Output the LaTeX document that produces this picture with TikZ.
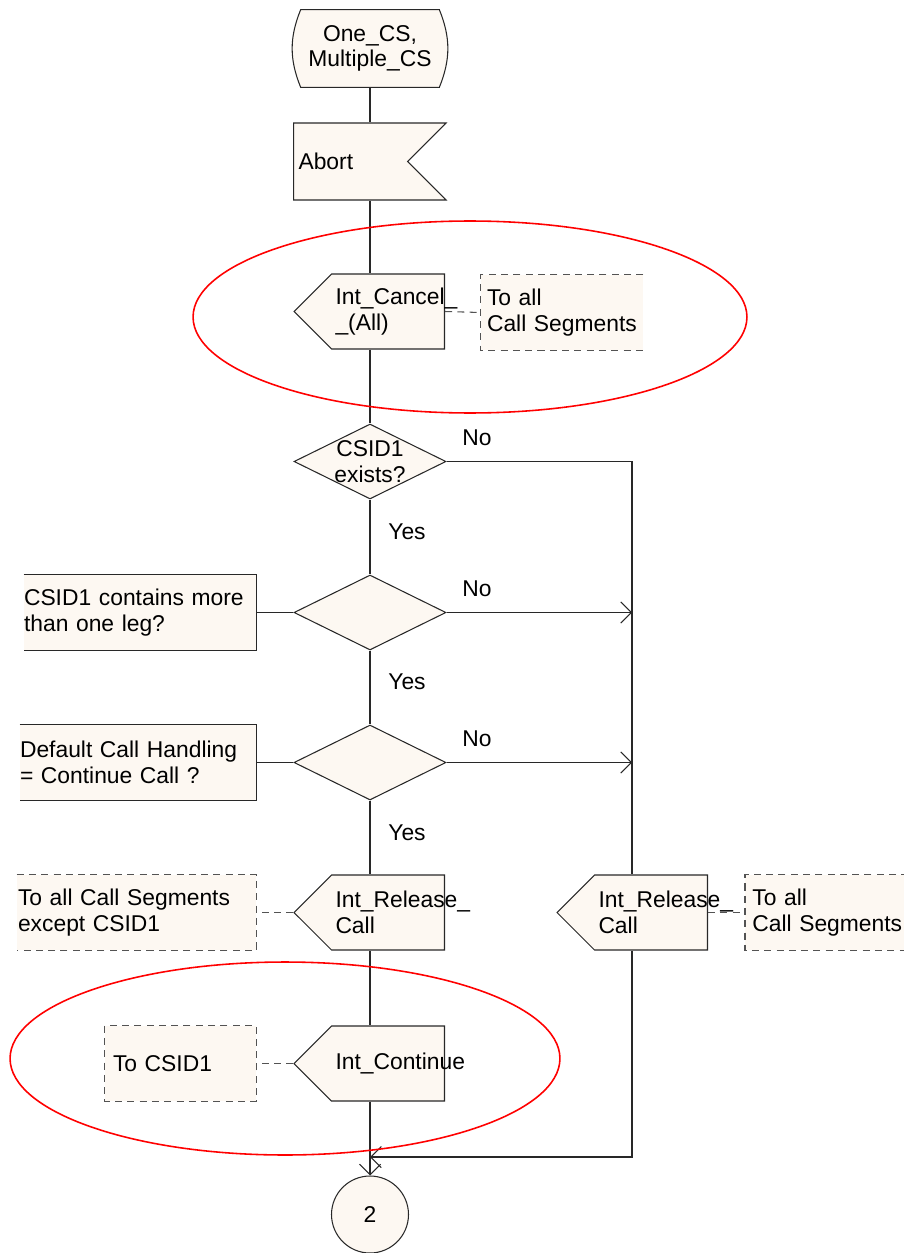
\documentclass[tikz,border=0pt]{standalone}
\usepackage{fontspec}
\setmainfont{Liberation Sans}
\usetikzlibrary{shapes.geometric,shapes.symbols,arrows.meta}

\definecolor{sdlfill}{RGB}{253,248,242}
\definecolor{sdlline}{RGB}{40,40,40}

\pgfdeclarelayer{background}
\pgfsetlayers{background,main}

\begin{document}
\begin{tikzpicture}[
  x=0.02cm, y=-0.02cm,
  every node/.style={font=\fontsize{13}{14.6}\selectfont},
  base/.style={draw=sdlline, fill=sdlfill, line width=0.6pt},
  startbox/.style={minimum width=2.76cm, minimum height=1.54cm, inner sep=0pt, align=center},
  inputbox/.style={base, signal, signal to=nowhere, signal from=east, signal pointer angle=90, minimum height=1.54cm, text width=2.08cm, inner xsep=0.1cm, align=left, anchor=west},
  outputbox/.style={base, signal, signal to=west, signal pointer angle=90, minimum height=1.5cm, text width=2.1cm, inner xsep=0.08cm, align=left, anchor=east},
  decision/.style={base, diamond, minimum width=3.04cm, minimum height=1.5cm, inner sep=0pt},
  askbox/.style={fill=sdlfill, minimum height=1.5cm, inner xsep=0pt, align=left},
  cmtbox/.style={fill=sdlfill, minimum height=1.5cm, align=left},
  connector/.style={base, circle, minimum size=1.54cm, inner sep=0pt},
  lbl/.style={inner sep=1pt},
  line/.style={draw=sdlline, line width=0.6pt},
  flow/.style={line, -{Straight Barb[length=6pt,width=12pt]}},
  cmtline/.style={draw=sdlline!80, line width=0.6pt, dash pattern=on 4pt off 3pt},
  ring/.style={draw=red, line width=0.9pt}
]
\useasboundingbox (0,0) rectangle (903,1253);

% main column
\node[startbox] (start) at (370,48.5) {One\_CS,\\Multiple\_CS};
\node[inputbox] (abort) at (293,161.5) {Abort};
\node[outputbox] (cancel) at (445,311.5) {Int\_Cancel\_\\\_(All)};
\node[decision] (d1) at (370,461.5) {};
\node[align=center] at (d1) {CSID1\\exists?};
\node[decision] (d2) at (370,612.5) {};
\node[decision] (d3) at (370,762.5) {};
\node[outputbox] (relB) at (445,912.5) {Int\_Release\_\\Call};
\node[outputbox] (cont) at (445,1063.5) {Int\_Continue};
\node[connector] (conn) at (370,1214.5) {2};

% start symbol outline with bulging sides
\begin{pgfonlayer}{background}
\draw[base] (start.north west) to[bend right=22] (start.south west)
  -- (start.south east) to[bend right=22] (start.north east) -- cycle;
\end{pgfonlayer}

% release branch on the right
\coordinate (bus) at (632,461.5);
\node[outputbox] (relA) at (708,912.5) {Int\_Release\_\\Call};
\coordinate (join) at (370,1157);

% questions and comments
\node[askbox, minimum width=4.64cm, text width=4.64cm] (q2) at (140,612.5) {CSID1 contains more\\than one leg?};
\node[askbox, minimum width=4.72cm, text width=4.72cm] (q3) at (138,762.5) {Default Call Handling\\= Continue Call ?};
\node[cmtbox, minimum width=3.24cm, text width=3.0cm, inner xsep=0.12cm] (c1) at (562,312.5) {To all\\Call Segments};
\node[cmtbox, minimum width=4.78cm, text width=4.74cm, inner xsep=0.02cm] (c2) at (136.5,912.5) {To all Call Segments\\except CSID1};
\node[cmtbox, minimum width=3.5cm, text width=3.22cm, inner xsep=0.14cm, anchor=west] (c3) at (745,912.5) {To all\\Call Segments};
\node[cmtbox, minimum width=3.02cm, text width=2.7cm, inner xsep=0.16cm] (c4) at (180.5,1063.5) {To CSID1};

% box edges
\draw[line] (q2.north west) -- (q2.north east) -- (q2.south east) -- (q2.south west);
\draw[line] (q3.north west) -- (q3.north east) -- (q3.south east) -- (q3.south west);
\draw[cmtline] (c1.north east) -- (c1.north west) -- (c1.south west) -- (c1.south east);
\draw[cmtline] (c2.north west) -- (c2.north east) -- (c2.south east) -- (c2.south west);
\draw[cmtline] (c3.north east) -- (c3.north west) -- (c3.south west) -- (c3.south east);
\draw[cmtline] (c4.north west) rectangle (c4.south east);

% trunk
\draw[line] (start.south) -- (start.south |- abort.north);
\draw[line] (start.south |- abort.south) -- (start.south |- cancel.north);
\draw[line] (start.south |- cancel.south) -- (d1.north);
\draw[line] (d1.south) -- (d2.north);
\draw[line] (d2.south) -- (d3.north);
\draw[line] (d3.south) -- (d3.south |- relB.north);
\draw[line] (d3.south |- relB.south) -- (d3.south |- cont.north);
\draw[flow] (d3.south |- cont.south) -- (conn.north);

% no branches
\draw[line] (d1.east) -- (bus) -- (bus |- relA.north);
\draw[flow] (d2.east) -- (d2.east -| bus);
\draw[flow] (d3.east) -- (d3.east -| bus);
\draw[flow] (bus |- relA.south) |- (join);

% links to questions and comments
\draw[line] (q2.east) -- (d2.west);
\draw[line] (q3.east) -- (d3.west);
\draw[cmtline] (cancel.east) -- (c1.west);
\draw[cmtline] (relB.west) -- (c2.east);
\draw[cmtline] (relA.east) -- (c3.west);
\draw[cmtline] (cont.west) -- (c4.east);

% branch labels
\node[lbl] at (477,438) {No};
\node[lbl] at (407,532) {Yes};
\node[lbl] at (477,589) {No};
\node[lbl] at (407,682) {Yes};
\node[lbl] at (477,739) {No};
\node[lbl] at (407,833) {Yes};

% highlighted parts
\draw[ring] (470,317) ellipse [x radius=5.54cm, y radius=1.92cm];
\draw[ring] (285,1058.5) ellipse [x radius=5.5cm, y radius=1.93cm];
\end{tikzpicture}
\end{document}
